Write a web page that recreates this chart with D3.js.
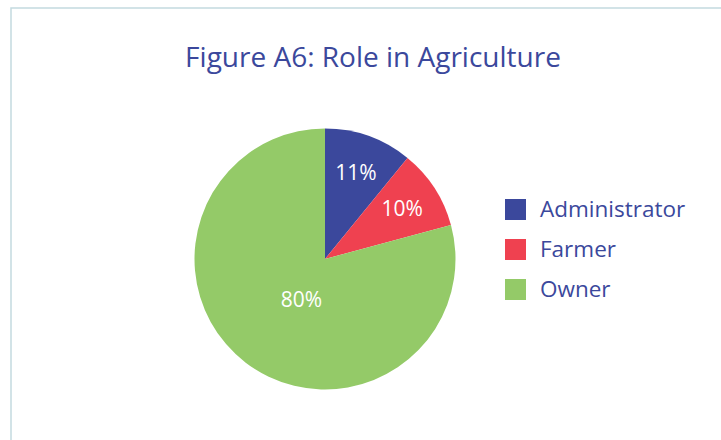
<!DOCTYPE html>
<html><head><meta charset="utf-8">
<script src="https://cdn.jsdelivr.net/npm/d3@7"></script>
<style>html,body{margin:0;padding:0;background:#fff;overflow:hidden}svg{display:block}</style>
</head><body>
<svg id="chart" width="721" height="440"></svg>
<script>
const title = "Figure A6: Role in Agriculture";
const categories = ["Administrator", "Farmer", "Owner"];
const values = [11, 10, 80];
const colors = ["#3b489c", "#ef4150", "#94ca68"];

const W = 721, H = 440;
const svg = d3.select("#chart");
const font = "'Open Sans', 'Noto Sans', sans-serif";

// frame
svg.append("rect").attr("x", 11).attr("y", 8).attr("width", W + 20).attr("height", H + 20)
  .attr("fill", "#fff").attr("stroke", "#c3dadf").attr("stroke-width", 1.5);

svg.append("text").attr("x", 373).attr("y", 67).attr("text-anchor", "middle")
  .attr("font-family", font).attr("font-size", 28).attr("fill", "#3b489c").text(title);

const cx = 325, cy = 259, R = 130.5;
const data = categories.map((c, i) => ({ cat: c, value: values[i] }));
const pie = d3.pie().value(d => d.value).sort(null);
const arcs = pie(data);
const arc = d3.arc().innerRadius(0).outerRadius(R);
const color = d3.scaleOrdinal().domain(categories).range(colors);

const g = svg.append("g").attr("transform", `translate(${cx},${cy})`);
g.selectAll("path").data(arcs).enter().append("path")
  .attr("d", arc).attr("fill", d => color(d.data.cat));

const total = d3.sum(values);
g.selectAll("text.lbl").data(arcs).enter().append("text").attr("class", "lbl")
  .attr("transform", d => {
    const big = d.data.value / total > 0.5;
    const mid = (d.startAngle + d.endAngle) / 2 - (big ? 0.13 : 0);
    const p = d3.pointRadial(mid, big ? 47 : 92);
    return `translate(${p[0]},${p[1]})`;
  })
  .attr("text-anchor", "middle").attr("dy", "0.35em")
  .attr("font-family", font).attr("font-size", 21).attr("fill", "#fff")
  .text(d => d.data.value + "%");

// legend
const lg = svg.append("g").attr("transform", "translate(505,199)");
const items = lg.selectAll("g").data(categories).enter().append("g")
  .attr("transform", (d, i) => `translate(0,${i * 40})`);
items.append("rect").attr("width", 21).attr("height", 21).attr("fill", d => color(d));
items.append("text").attr("x", 35).attr("y", 18).attr("font-family", font)
  .attr("font-size", 22.5).attr("fill", "#3b489c").text(d => d);
</script>
</body></html>
